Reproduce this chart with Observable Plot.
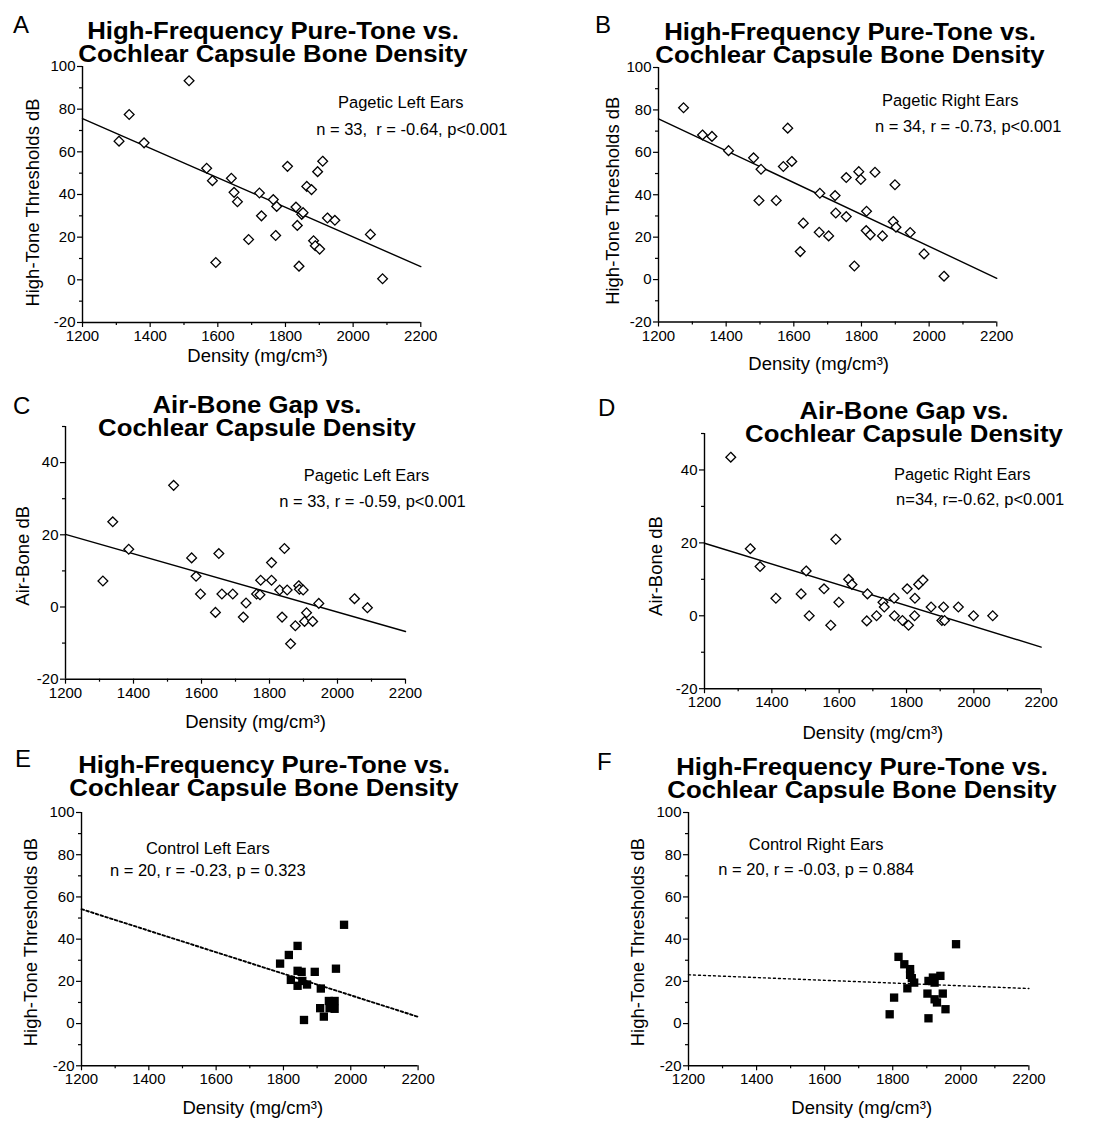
<!DOCTYPE html>
<html><head><meta charset="utf-8">
<script src="https://cdn.jsdelivr.net/npm/d3@7"></script>
<script src="https://cdn.jsdelivr.net/npm/@observablehq/plot@0.6"></script>
<style>
body{margin:0;background:#fff;}
#page{position:relative;width:1095px;height:1122px;overflow:hidden;font-family:"Liberation Sans",Arial,Helvetica,sans-serif;color:#000;background:#fff;}
.letter{position:absolute;font-size:24px;line-height:24px;white-space:nowrap;}
.title{position:absolute;font-weight:bold;font-size:23px;line-height:23.5px;text-align:center;white-space:nowrap;transform:translateX(-50%) scaleX(1.12);transform-origin:50% 0;}
.panel{position:absolute;}
.panel svg{max-width:none !important;overflow:visible;}
</style></head><body><div id="page"></div>
<script>
// ---------- DATA ----------
const panelLetters = ["A", "B", "C", "D", "E", "F"];
const titleLine1 = ["High-Frequency Pure-Tone vs.", "High-Frequency Pure-Tone vs.", "Air-Bone Gap vs.", "Air-Bone Gap vs.", "High-Frequency Pure-Tone vs.", "High-Frequency Pure-Tone vs."];
const titleLine2 = ["Cochlear Capsule Bone Density", "Cochlear Capsule Bone Density", "Cochlear Capsule Density", "Cochlear Capsule Density", "Cochlear Capsule Bone Density", "Cochlear Capsule Bone Density"];
const groupLabels = ["Pagetic Left Ears", "Pagetic Right Ears", "Pagetic Left Ears", "Pagetic Right Ears", "Control Left Ears", "Control Right Ears"];
const statLabels = ["n = 33,  r = -0.64, p<0.001", "n = 34, r = -0.73, p<0.001", "n = 33, r = -0.59, p<0.001", "n=34, r=-0.62, p<0.001", "n = 20, r = -0.23, p = 0.323", "n = 20, r = -0.03, p = 0.884"];
const yLabels = ["High-Tone Thresholds dB", "High-Tone Thresholds dB", "Air-Bone dB", "Air-Bone dB", "High-Tone Thresholds dB", "High-Tone Thresholds dB"];
const xLabel = "Density (mg/cm³)";

const xTicksMajor = [1200, 1400, 1600, 1800, 2000, 2200];
const xTicksMinor = [1300, 1500, 1700, 1900, 2100];
const yTicksThreshold = [-20, 0, 20, 40, 60, 80, 100];
const yTicksThresholdMinor = [-10, 10, 30, 50, 70, 90];
const yTicksAirBone = [-20, 0, 20, 40];
const yTicksAirBoneMinor = [-10, 10, 30, 50];
const yDomainThreshold = [-20, 100];
const yDomainAirBone = [-20, 50];

// fitted regression lines: value at density 1200 and at 2200
const fitAt1200 = [75.6, 75.8, 20.1, 19.9, 54.2, 23.1];
const fitAt2200 = [6.2, 0.6, -6.8, -8.6, 3.2, 16.6];

// A: Pagetic left ears, high-tone thresholds
const densityA = [1515, 1338, 1308, 1382, 1567, 1584, 1594, 1640, 1648, 1658, 1691, 1723, 1729, 1764, 1774, 1771, 1806, 1831, 1835, 1840, 1848, 1863, 1877, 1895, 1910, 1883, 1888, 1901, 1924, 1946, 2051, 2087, 1852];
const thresholdA = [93.3, 77.5, 65, 64.2, 52.3, 46.5, 8.1, 47.6, 41, 36.6, 18.9, 40.7, 30, 37.6, 34.4, 20.8, 53.2, 34.1, 25.5, 6.4, 30.7, 43.8, 42.3, 50.7, 55.6, 18.3, 16, 14.4, 29, 27.9, 21.3, 0.5, 31.5];
// B: Pagetic right ears, high-tone thresholds
const densityB = [1274, 1330, 1358, 1407, 1481, 1503, 1497, 1548, 1569, 1582, 1594, 1619, 1628, 1677, 1675, 1703, 1722, 1724, 1755, 1755, 1779, 1792, 1798, 1815, 1814, 1826, 1840, 1862, 1899, 1894, 1902, 1944, 1985, 2044];
const thresholdB = [81, 68.2, 67.5, 60.8, 57.4, 52, 37.3, 37.3, 53.3, 71.4, 55.7, 13.2, 26.6, 40.7, 22.3, 20.6, 39.6, 31.4, 48.1, 29.7, 6.4, 50.9, 47.2, 32.2, 23.1, 21.1, 50.6, 20.6, 44.7, 27.4, 24.7, 22.2, 12.1, 1.6];
// C: Pagetic left ears, air-bone gap
const densityC = [1310, 1339, 1386, 1518, 1571, 1584, 1597, 1641, 1651, 1660, 1692, 1723, 1731, 1762, 1774, 1772, 1806, 1806, 1830, 1837, 1844, 1852, 1862, 1876, 1886, 1888, 1899, 1909, 1903, 1927, 1945, 2050, 2088];
const airBoneC = [7.2, 23.6, 16, 33.7, 13.6, 8.5, 3.6, -1.5, 14.8, 3.6, 3.6, -2.8, 1.1, 3.6, 7.4, 3.4, 12.3, 7.4, 4.7, -2.8, 16.2, 4.7, -10.2, -5.2, 5.9, 4.9, 4.7, -1.6, -4, -4, 1, 2.3, -0.2];
// D: Pagetic right ears, air-bone gap
const densityD = [1278, 1336, 1365, 1412, 1487, 1502, 1511, 1555, 1575, 1590, 1599, 1628, 1638, 1684, 1682, 1711, 1730, 1734, 1763, 1764, 1788, 1802, 1806, 1824, 1825, 1836, 1849, 1873, 1910, 1905, 1913, 1954, 1999, 2056];
const airBoneD = [43.5, 18.4, 13.5, 4.8, 6, 12.3, 0, 7.4, -2.6, 21, 3.7, 10, 8.6, 6, -1.4, 0, 3.7, 2.4, 4.8, 0, -1.3, 7.4, -2.6, 0, 4.8, 8.6, 9.8, 2.4, 2.4, -1.3, -1.3, 2.4, 0, 0];
// E: Control left ears, high-tone thresholds
const densityE = [1790, 1816, 1842, 1822, 1842, 1854, 1842, 1856, 1870, 1893, 1911, 1861, 1909, 1920, 1935, 1952, 1937, 1952, 1956, 1980];
const thresholdE = [28.4, 32.5, 36.8, 20.7, 25, 24.5, 17.9, 20.2, 18.5, 24.5, 16.6, 1.7, 7.3, 3.3, 10.7, 10.7, 7.3, 7, 26, 46.8];
// F: Control right ears, high-tone thresholds
const densityF = [1791, 1804, 1817, 1834, 1851, 1851, 1843, 1863, 1856, 1905, 1905, 1902, 1923, 1940, 1923, 1930, 1947, 1955, 1986, 1918];
const thresholdF = [4.4, 12.3, 31.6, 28.1, 25.8, 23.1, 16.7, 19.4, 21.5, 20.2, 2.5, 14.2, 19.4, 22.6, 11.5, 10, 14.2, 6.8, 37.6, 21.8];

const xSeries = [densityA, densityB, densityC, densityD, densityE, densityF];
const ySeries = [thresholdA, thresholdB, airBoneC, airBoneD, thresholdE, thresholdF];

// ---------- LAYOUT ----------
const FONT = '"Liberation Sans", Arial, Helvetica, sans-serif';
const frames = [
  {x0: 81.7, x1: 420, yT: 66, yB: 322},
  {x0: 658.3, x1: 996.6, yT: 67, yB: 321.5},
  {x0: 65, x1: 405, yT: 425.6, yB: 678.3},
  {x0: 704.3, x1: 1041, yT: 432.5, yB: 687.7},
  {x0: 80.7, x1: 417.3, yT: 811.7, yB: 1065},
  {x0: 688.3, x1: 1028.7, yT: 811.7, yB: 1065}
];
const letterPos = [[13, 33], [595, 33], [13, 414], [598, 416], [15, 767], [597, 770]];
const titlePos = [[273, 39], [850, 40], [257, 413], [904, 419], [264, 773], [862, 775]];
const annot = [ // [center x line1, baseline1, center x line2, baseline2]
  [400, 108, 411, 135], [950, 106, 968, 132], [366, 480, 372, 506],
  [962, 479, 980, 504], [207, 853, 207, 875], [816, 849, 816, 874]
];
const ylabPos = [[-44, 8], [-40, 6], [-37, 3], [-43, 5], [-45, 3], [-45, 3]];
const xlabPos = [[6, 40], [-9, 48], [20, 49], [0, 50], [3, 48], [3, 48]];
const symbols = ["diamond2", "diamond2", "diamond2", "diamond2", "square", "square"];
const dashes = [null, null, null, null, "2.6,2.4", "2,3"];
const fitWidth = [1.4, 1.4, 1.4, 1.4, 1.9, 1.4];

const page = document.getElementById("page");

function addLetter(i) {
  const d = document.createElement("div");
  d.className = "letter";
  d.textContent = panelLetters[i];
  d.style.left = letterPos[i][0] + "px";
  d.style.top = (letterPos[i][1] - 20.3) + "px";
  page.appendChild(d);
}
function addTitle(i) {
  const d = document.createElement("div");
  d.className = "title";
  const l1 = document.createElement("div"); l1.textContent = titleLine1[i];
  const l2 = document.createElement("div"); l2.textContent = titleLine2[i];
  d.appendChild(l1); d.appendChild(l2);
  d.style.left = titlePos[i][0] + "px";
  d.style.top = (titlePos[i][1] - 19.5) + "px";
  page.appendChild(d);
}

function addPanel(i) {
  const f = frames[i];
  const air = (i === 2 || i === 3);
  const yDomain = air ? yDomainAirBone : yDomainThreshold;
  const mL = 90, mR = 150, mT = 14, mB = 62;
  const fw = f.x1 - f.x0, fh = f.yB - f.yT;
  const pts = xSeries[i].map((x, k) => ({x, y: ySeries[i][k]}));
  const fit = [{x: 1200, y: fitAt1200[i]}, {x: 2200, y: fitAt2200[i]}];
  const a = annot[i];
  const isSquare = symbols[i] === "square";
  const svg = Plot.plot({
    width: mL + fw + mR, height: mT + fh + mB,
    marginLeft: mL, marginRight: mR, marginTop: mT, marginBottom: mB,
    x: {domain: [1200, 2200]},
    y: {domain: yDomain},
    style: {background: "transparent", fontFamily: FONT, color: "#000", overflow: "visible", maxWidth: "none"},
    marks: [
      Plot.axisY({ticks: air ? yTicksAirBoneMinor : yTicksThresholdMinor, tickSize: 3, tickFormat: () => "", label: null, strokeWidth: 1.2}),
      Plot.axisY({ticks: air ? yTicksAirBone : yTicksThreshold, tickSize: 5, tickPadding: 2, tickFormat: d => String(d), label: null, fontSize: 15, strokeWidth: 1.2}),
      Plot.axisX({ticks: xTicksMinor, tickSize: 3, tickFormat: () => "", label: null, strokeWidth: 1.2}),
      Plot.axisX({ticks: xTicksMajor, tickSize: 5, tickPadding: 3, tickFormat: d => String(d), label: null, fontSize: 15, strokeWidth: 1.2}),
      Plot.ruleX([1200], {y1: yDomain[0], y2: yDomain[1], stroke: "#000", strokeWidth: 1.4}),
      Plot.ruleY([yDomain[0]], {x1: 1200, x2: 2200, stroke: "#000", strokeWidth: 1.4}),
      Plot.line(fit, {x: "x", y: "y", stroke: "#000", strokeWidth: fitWidth[i], strokeDasharray: dashes[i]}),
      Plot.dot(pts, {x: "x", y: "y", symbol: symbols[i], r: isSquare ? 4.7 : 4.4,
        fill: isSquare ? "#000" : "#fff", stroke: isSquare ? "none" : "#000", strokeWidth: 1.3}),
      Plot.text([groupLabels[i]], {frameAnchor: "top-left", dx: a[0] - f.x0, dy: a[1] - f.yT, lineAnchor: "bottom", textAnchor: "middle", fontSize: 16.5, fill: "#000"}),
      Plot.text([statLabels[i]], {frameAnchor: "top-left", dx: a[2] - f.x0, dy: a[3] - f.yT, lineAnchor: "bottom", textAnchor: "middle", fontSize: 16.5, fill: "#000"}),
      Plot.text([yLabels[i]], {frameAnchor: "left", rotate: -90, dx: ylabPos[i][0], dy: ylabPos[i][1], lineAnchor: "bottom", textAnchor: "middle", fontSize: 18.5, fill: "#000"}),
      Plot.text([xLabel], {frameAnchor: "bottom", dx: xlabPos[i][0], dy: xlabPos[i][1], lineAnchor: "bottom", textAnchor: "middle", fontSize: 18.5, fill: "#000"})
    ]
  });
  const div = document.createElement("div");
  div.className = "panel";
  div.style.left = (f.x0 - mL) + "px";
  div.style.top = (f.yT - mT) + "px";
  div.appendChild(svg);
  page.appendChild(div);
}

for (let i = 0; i < 6; i++) { addPanel(i); addLetter(i); addTitle(i); }
</script>
</body></html>
